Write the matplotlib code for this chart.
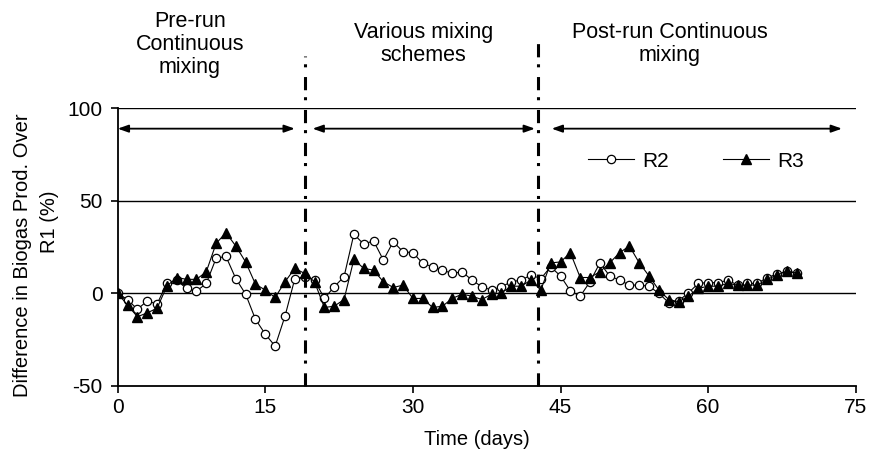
import matplotlib
matplotlib.use("Agg")
import matplotlib.pyplot as plt

# biogas difference over R1 (%), one value per day
days = list(range(70))
r2 = [0, -3.3, -8.6, -4, -5.8, 5.7, 7, 2.7, 1.2, 5.4,
      19, 20, 8, -0.4, -14, -22, -28.5, -12.3, 8, 9,
      7.2, -2.7, 3.6, 9, 32, 26.6, 28.4, 18, 27.9, 22.5,
      22, 16.2, 14.4, 12.6, 10.8, 11.7, 7.2, 3.6, 1.8, 3.6,
      6.3, 7.2, 9.9, 8, 14.4, 9.4, 1.4, -1.5, 6.3, 16.5,
      9.4, 7.2, 4.5, 4.5, 3.9, 0, -5, -4, 0.3, 5.4,
      5.9, 5.7, 7.2, 4.5, 5.4, 5.4, 8.6, 10.4, 12, 11]
r3 = [0, -6.3, -12.6, -10.5, -8, 4, 8.6, 7.6, 7.6, 11.7,
      27, 32.8, 25.6, 17, 5, 1.8, -2.2, 6.3, 13.5, 10.8,
      6.3, -7.6, -6.9, -3.3, 18.4, 13.5, 12.6, 6.3, 3.2, 4.5,
      -2.7, -2.7, -7.6, -6.9, -2.7, -0.4, -1.5, -3.3, -0.4, 0.3,
      3.9, 3.9, 7.2, 1.8, 16.5, 17, 22, 8.6, 8.6, 11.7,
      16.5, 22, 25.6, 16.5, 9.4, 1.8, -3.3, -4.5, -1.5, 2.7,
      3.9, 3.9, 5.4, 4.5, 4.5, 4.5, 7.6, 9.9, 12, 11]

xticks = [0, 15, 30, 45, 60, 75]
yticks = [-50, 0, 50, 100]

# phase boundaries (days) and labels
bounds = [19, 42.7]
bound_tops = [128, 137]
arrows = [(0, 18), (19.8, 42.4), (44.1, 73.6)]
arrow_y = 89
phase_labels = ["Pre-run\nContinuous\nmixing", "Various mixing\nschemes", "Post-run Continuous\nmixing"]
phase_x = [7.35, 31.1, 56.1]
phase_y = 134.6

plt.rcParams['font.family'] = ['Liberation Sans', 'DejaVu Sans']
plt.rcParams['lines.scale_dashes'] = False
plt.rcParams['axes.unicode_minus'] = False

fig = plt.figure(figsize=(8.7, 4.61), dpi=100)
ax = fig.add_axes([0.1353, 0.1627, 0.8483, 0.6024])

for y in [0, 50, 100]:
    ax.axhline(y, color='black', lw=1.0, zorder=1)

ax.plot(days, r2, color='black', lw=0.8, marker='o', ms=6, mfc='white',
        mec='black', mew=0.9, label='R2', zorder=3)
ax.plot(days, r3, color='black', lw=0.8, marker='^', ms=7, mfc='black',
        mec='black', label='R3', zorder=4)

for b, top in zip(bounds, bound_tops):
    ax.plot([b, b], [-50, top], color='black', lw=2.2,
            linestyle=(0, (9.5, 7, 2.2, 5)), clip_on=False, zorder=5)

for a, b in arrows:
    ax.annotate('', xy=(b, arrow_y), xytext=(a, arrow_y),
                arrowprops=dict(arrowstyle='<|-|>,head_length=0.45,head_width=0.16',
                                color='black', lw=1.3, shrinkA=0, shrinkB=0,
                                mutation_scale=14))

for lab, x in zip(phase_labels, phase_x):
    ax.text(x, phase_y, lab, ha='center', va='center', fontsize=15.5,
            linespacing=1.12, clip_on=False)

ax.set_xlim(0, 75)
ax.set_ylim(-50, 100)
ax.set_xticks(xticks)
ax.set_yticks(yticks)
ax.tick_params(axis='both', direction='out', length=5, width=1.2, labelsize=15)
ax.tick_params(axis='y', pad=6)
ax.tick_params(axis='x', pad=4)

for s in ['top', 'right']:
    ax.spines[s].set_visible(False)
for s in ['left', 'bottom']:
    ax.spines[s].set_linewidth(1.3)

ax.text(0.486, -0.194, 'Time (days)', transform=ax.transAxes, ha='center',
        va='center', fontsize=14.5)
fig.text(23 / 870, (461 - 255) / 461, 'Difference in Biogas Prod. Over', rotation=90,
         ha='center', va='center', fontsize=14.5)
fig.text(50 / 870, (461 - 222) / 461, 'R1 (%)', rotation=90,
         ha='center', va='center', fontsize=14.5)

ax.legend(loc='center left', bbox_to_anchor=(0.637, 0.81), ncol=2, frameon=False,
          fontsize=15, handlelength=2.2, handletextpad=0.4, columnspacing=2.6,
          borderpad=0, borderaxespad=0)

fig.savefig('out.png', dpi=100)
